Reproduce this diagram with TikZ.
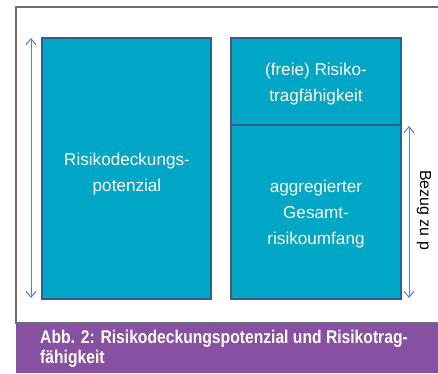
\documentclass[tikz,border=0pt]{standalone}
\usepackage{fontspec}
\setmainfont{Liberation Sans}
\newfontfamily\capfont[FakeStretch=0.85]{Liberation Sans Bold}
\usetikzlibrary{arrows.meta}
\definecolor{tealfill}{RGB}{0,166,198}
\definecolor{boxborder}{RGB}{58,92,140}
\definecolor{arrowblue}{RGB}{84,130,196}
\definecolor{capviolet}{RGB}{135,80,160}
\definecolor{framegray}{RGB}{110,110,110}
\tikzset{
  blockbox/.style={draw=boxborder, fill=tealfill, line width=2.4bp},
  blocktext/.style={text=white, align=center, font=\fontsize{17.2}{26.5}\selectfont},
  span/.style={draw=arrowblue, line width=1bp, {Straight Barb[length=6bp,width=10bp]}-{Straight Barb[length=6bp,width=10bp]}},
}
\begin{document}
\begin{tikzpicture}[x=1bp,y=-1bp]
\useasboundingbox (0,0) rectangle (438,373);
\fill[white] (0,0) rectangle (438,373);
% frame
\draw[framegray, line width=1.2bp] (438,7) -- (16,7) -- (16,323) -- (438,323);
\fill[capviolet] (16,324) rectangle (438,373);
% boxes
\draw[blockbox] (42,38) rectangle (211,299);
\draw[blockbox] (231,38) rectangle (401,125);
\draw[blockbox] (231,125) rectangle (401,299);
\node[blocktext] (rdp) at (127,174) {Risikodeckungs-\\potenzial};
\node[blocktext] (rtf) at (316,84) {(freie) Risiko-\\tragfähigkeit};
\node[blocktext] (ags) at (316,214) {aggregierter\\Gesamt-\\risikoumfang};
% arrows
\coordinate (la) at (31,38);
\coordinate (lb) at (31,298);
\coordinate (ra) at (409,126);
\coordinate (rb) at (409,298);
\draw[span] (la) -- (lb);
\draw[span] (ra) -- (rb);
\node[rotate=-90, font=\fontsize{16}{18}\selectfont] (bez) at (424,210) {Bezug zu p};
% caption
\node[anchor=north west, text=white, align=left, inner sep=0pt,
      font=\capfont\fontsize{18.5}{20.5}\selectfont] (cap) at (40,329.5)
  {Abb. 2: Risikodeckungspotenzial und Risikotrag-\\fähigkeit};
\end{tikzpicture}
\end{document}
